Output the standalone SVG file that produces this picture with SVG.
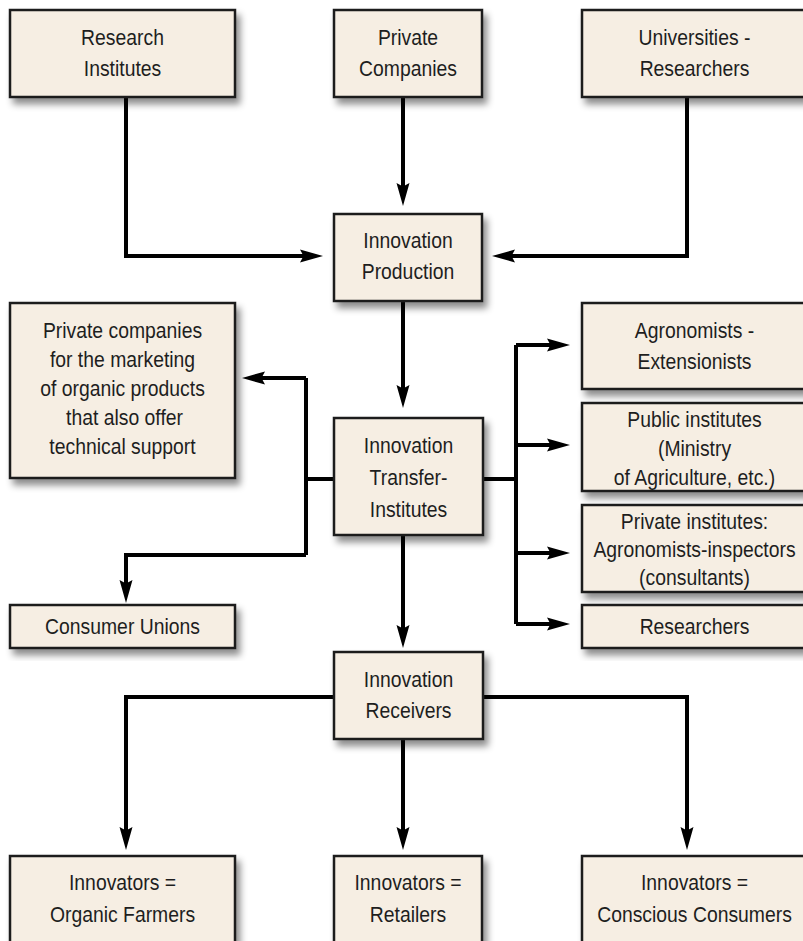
<svg xmlns="http://www.w3.org/2000/svg" width="803" height="941" viewBox="0 0 803 941">
<defs>
<filter id="sh" x="-10%" y="-10%" width="130%" height="140%">
<feDropShadow dx="4" dy="6" stdDeviation="3.5" flood-color="#000" flood-opacity="0.45"/>
</filter>
<marker id="ah" markerUnits="userSpaceOnUse" markerWidth="26" markerHeight="16" viewBox="0 0 26 16" refX="11" refY="8" orient="auto">
<path d="M0,1.5 L23,8 L0,14.5 L3.5,8 z" fill="#000"/>
</marker>
</defs>
<style>
.box{fill:#f6eee3;stroke:#1a1a1a;stroke-width:2.5;filter:url(#sh)}
.t{font-family:"Liberation Sans",Arial,sans-serif;font-size:22px;fill:#1e1e1e;text-anchor:middle}
.c{fill:none;stroke:#000;stroke-width:4;stroke-linejoin:miter}
.a{marker-end:url(#ah)}
</style>
<rect width="803" height="941" fill="#fff"/>

<g id="connectors">
<path class="c a" d="M126,97 V256 H311"/>
<path class="c a" d="M403,97 V194"/>
<path class="c a" d="M687,97 V256 H504"/>
<path class="c a" d="M403,301 V396"/>
<path class="c" d="M483,479 H516 M516,345 V624"/>
<path class="c a" d="M516,345 H558"/>
<path class="c a" d="M516,445 H558"/>
<path class="c a" d="M516,553 H558"/>
<path class="c a" d="M516,624 H558"/>
<path class="c" d="M334,479 H306 M306,378 V555"/>
<path class="c a" d="M306,378 H254"/>
<path class="c a" d="M306,555 H126 V591"/>
<path class="c a" d="M403,535 V636"/>
<path class="c a" d="M334,697 H126 V838"/>
<path class="c a" d="M483,697 H687 V838"/>
<path class="c a" d="M403,739 V838"/>
</g>

<g id="research-institutes">
<rect class="box" x="10" y="10" width="225" height="87"/>
<text class="t" transform="translate(122.5 0) scale(0.88 1)" y="45">Research</text>
<text class="t" transform="translate(122.5 0) scale(0.88 1)" y="76">Institutes</text>
</g>
<g id="private-companies">
<rect class="box" x="334" y="10" width="148" height="87"/>
<text class="t" transform="translate(408 0) scale(0.88 1)" y="45">Private</text>
<text class="t" transform="translate(408 0) scale(0.88 1)" y="76">Companies</text>
</g>
<g id="universities">
<rect class="box" x="582" y="10" width="225" height="87"/>
<text class="t" transform="translate(694.5 0) scale(0.88 1)" y="45">Universities -</text>
<text class="t" transform="translate(694.5 0) scale(0.88 1)" y="76">Researchers</text>
</g>
<g id="innovation-production">
<rect class="box" x="334" y="214" width="148" height="87"/>
<text class="t" transform="translate(408 0) scale(0.88 1)" y="248">Innovation</text>
<text class="t" transform="translate(408 0) scale(0.88 1)" y="279">Production</text>
</g>
<g id="private-companies-marketing">
<rect class="box" x="10" y="303" width="225" height="175"/>
<text class="t" transform="translate(122.5 0) scale(0.88 1)" y="338">Private companies</text>
<text class="t" transform="translate(122.5 0) scale(0.88 1)" y="367">for the marketing</text>
<text class="t" transform="translate(122.5 0) scale(0.88 1)" y="396">of organic products</text>
<text class="t" transform="translate(124.5 0) scale(0.88 1)" y="425">that also offer</text>
<text class="t" transform="translate(122.5 0) scale(0.88 1)" y="454">technical support</text>
</g>
<g id="innovation-transfer">
<rect class="box" x="334" y="418" width="149" height="117"/>
<text class="t" transform="translate(408.5 0) scale(0.88 1)" y="453">Innovation</text>
<text class="t" transform="translate(408.5 0) scale(0.88 1)" y="485">Transfer-</text>
<text class="t" transform="translate(408.5 0) scale(0.88 1)" y="517">Institutes</text>
</g>
<g id="consumer-unions">
<rect class="box" x="10" y="605" width="225" height="43"/>
<text class="t" transform="translate(122.5 0) scale(0.88 1)" y="634">Consumer Unions</text>
</g>
<g id="agronomists">
<rect class="box" x="582" y="303" width="225" height="86"/>
<text class="t" transform="translate(694.5 0) scale(0.88 1)" y="338">Agronomists -</text>
<text class="t" transform="translate(694.5 0) scale(0.88 1)" y="369">Extensionists</text>
</g>
<g id="public-institutes">
<rect class="box" x="582" y="403" width="225" height="88"/>
<text class="t" transform="translate(694.5 0) scale(0.88 1)" y="427">Public institutes</text>
<text class="t" transform="translate(694.5 0) scale(0.88 1)" y="456">(Ministry</text>
<text class="t" transform="translate(694.5 0) scale(0.88 1)" y="485">of Agriculture, etc.)</text>
</g>
<g id="private-institutes">
<rect class="box" x="582" y="505" width="225" height="87"/>
<text class="t" transform="translate(694.5 0) scale(0.88 1)" y="529">Private institutes:</text>
<text class="t" transform="translate(694.5 0) scale(0.88 1)" y="557">Agronomists-inspectors</text>
<text class="t" transform="translate(694.5 0) scale(0.88 1)" y="585">(consultants)</text>
</g>
<g id="researchers">
<rect class="box" x="582" y="605" width="225" height="43"/>
<text class="t" transform="translate(694.5 0) scale(0.88 1)" y="634">Researchers</text>
</g>
<g id="innovation-receivers">
<rect class="box" x="334" y="652" width="149" height="87"/>
<text class="t" transform="translate(408.5 0) scale(0.88 1)" y="687">Innovation</text>
<text class="t" transform="translate(408.5 0) scale(0.88 1)" y="718">Receivers</text>
</g>
<g id="organic-farmers">
<rect class="box" x="10" y="856" width="225" height="90"/>
<text class="t" transform="translate(122.5 0) scale(0.88 1)" y="890">Innovators =</text>
<text class="t" transform="translate(122.5 0) scale(0.88 1)" y="922">Organic Farmers</text>
</g>
<g id="retailers">
<rect class="box" x="334" y="856" width="148" height="90"/>
<text class="t" transform="translate(408 0) scale(0.88 1)" y="890">Innovators =</text>
<text class="t" transform="translate(408 0) scale(0.88 1)" y="922">Retailers</text>
</g>
<g id="conscious-consumers">
<rect class="box" x="582" y="856" width="225" height="90"/>
<text class="t" transform="translate(694.5 0) scale(0.88 1)" y="890">Innovators =</text>
<text class="t" transform="translate(694.5 0) scale(0.88 1)" y="922">Conscious Consumers</text>
</g>
</svg>
